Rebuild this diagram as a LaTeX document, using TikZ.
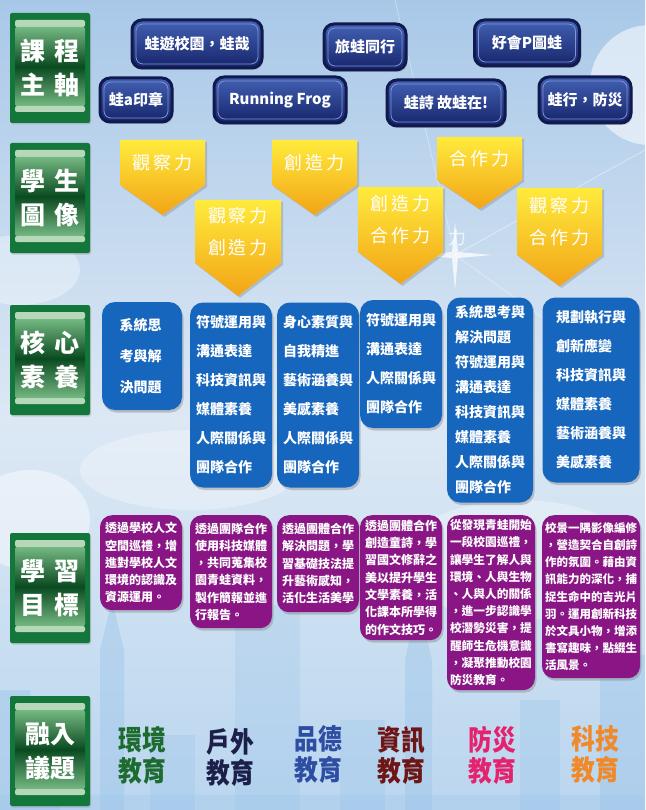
\documentclass[tikz,border=0pt]{standalone}
\usepackage{fontspec}
\setmainfont{Noto Sans CJK TC}
\usetikzlibrary{shadows,calc}
\definecolor{skyA}{HTML}{A9C8E8}
\definecolor{skyB}{HTML}{DCE8F4}
\definecolor{skyC}{HTML}{BAD6EF}
\definecolor{skyline}{HTML}{9EC6EA}
\definecolor{gframe}{HTML}{13763A}
\definecolor{gband}{HTML}{B7D8B8}
\definecolor{gmidL}{HTML}{74B882}
\definecolor{gdeep}{HTML}{0A4A20}
\definecolor{navyframe}{HTML}{111A4E}
\definecolor{navtop}{HTML}{4361B3}
\definecolor{navbot}{HTML}{16246A}
\definecolor{navlight}{HTML}{7F95D6}
\definecolor{yelA}{HTML}{FFEB3C}
\definecolor{yelB}{HTML}{F2A417}
\definecolor{coreblue}{HTML}{1766BE}
\definecolor{goalpurple}{HTML}{8A1685}
\definecolor{tgreen}{HTML}{1D6B2F}
\definecolor{tnavy}{HTML}{1C1F4A}
\definecolor{tblue}{HTML}{2D4EA3}
\definecolor{tmaroon}{HTML}{6E1616}
\definecolor{tpink}{HTML}{E5226E}
\definecolor{torange}{HTML}{F0892A}

\newcommand\ypent[7]{%
  \path[drop shadow={opacity=0.35,shadow xshift=2pt,shadow yshift=-2pt}, top color=yelA, bottom color=yelB]
    (#2,#4) -- (#3,#4) -- (#3,#5) -- ({(#2+#3)/2},#6) -- (#2,#5) -- cycle;
  \node[ytext] (#1) at ({(#2+#3)/2},{(#4+#5)/2}) {#7};}

\newcommand\topicnode[6]{%
  \node[topic, text=#4] (#1) at (#2,#3) {\scalebox{0.85}[1]{#5}\\\scalebox{0.85}[1]{#6}};}

\begin{document}
\begin{tikzpicture}[x=1pt,y=-1pt,
  glabel/.style={rounded corners=2pt, fill=gframe, minimum width=80pt, minimum height=110pt, inner sep=0pt,
    text=white, font=\bfseries\fontsize{25}{34}\selectfont, align=center,
    drop shadow={opacity=0.3,shadow xshift=1pt,shadow yshift=-1.5pt},
    path picture={
      \fill[gband] ($(path picture bounding box.north west)+(5pt,-7pt)$) rectangle ($(path picture bounding box.north east)+(-5pt,-14pt)$);
      \shade[top color=gmidL, bottom color=gmidL, middle color=gdeep] ($(path picture bounding box.north west)+(5pt,-14pt)$) rectangle ($(path picture bounding box.south east)+(-5pt,17pt)$);
      \fill[gband] ($(path picture bounding box.south west)+(5pt,17pt)$) rectangle ($(path picture bounding box.south east)+(-5pt,11pt)$);
    }},
  navbtn/.style={rounded corners=10pt, draw=navyframe, line width=3pt, top color=navtop, bottom color=navbot,
    text=white, font=\bfseries\fontsize{15}{18}\selectfont, inner sep=0pt,
    drop shadow={opacity=0.35,shadow xshift=1.5pt,shadow yshift=-2pt},
    path picture={\draw[navlight, line width=0.8pt, rounded corners=7pt] ($(path picture bounding box.north west)+(4pt,-4pt)$) rectangle ($(path picture bounding box.south east)+(-4pt,4pt)$);}},
  ytext/.style={text=white, font=\fontsize{18}{32}\selectfont\addfontfeatures{LetterSpace=15}, align=center, inner sep=0pt},
  core/.style={rounded corners=13pt, fill=coreblue, text=white, font=\bfseries\fontsize{14}{29}\selectfont, align=left, inner sep=0pt,
    drop shadow={opacity=0.4,shadow xshift=1.5pt,shadow yshift=-2.5pt}},
  goal/.style={rounded corners=12pt, fill=goalpurple, text=white, font=\bfseries\fontsize{12}{17.3}\selectfont, align=left,
    inner xsep=0pt, inner ysep=4pt, anchor=north, drop shadow={opacity=0.4,shadow xshift=1.5pt,shadow yshift=-2.5pt}},
  topic/.style={font=\bfseries\fontsize{28}{31}\selectfont, align=center, inner sep=0pt}
]
\useasboundingbox (0,0) rectangle (645,810);
% background
\shade[top color=skyA, bottom color=skyB] (0,0) rectangle (645,420);
\shade[top color=skyB, bottom color=skyC] (0,420) rectangle (645,810);
\fill[white, opacity=0.55] (650,85) ellipse (60pt and 60pt);
\fill[white, opacity=0.35] (20,270) ellipse (60pt and 35pt);
\fill[white, opacity=0.45] (30,520) ellipse (60pt and 50pt);
\fill[white, opacity=0.3] (190,470) ellipse (110pt and 40pt);
\fill[white, opacity=0.3] (520,560) ellipse (120pt and 60pt);
% rays and flare
\draw[white, opacity=0.5, line width=0.7pt] (455,255) -- (645,150);
\draw[white, opacity=0.4, line width=0.7pt] (455,255) -- (395,0);
\draw[white, opacity=0.4, line width=0.7pt] (455,255) -- (560,330);
\fill[white, opacity=0.75] (455,222) -- (458,252) -- (492,255) -- (458,258) -- (455,290) -- (452,258) -- (418,255) -- (452,252) -- cycle;
% skyline
\fill[skyline, opacity=0.45] (0,810) -- (0,690) -- (30,690) -- (30,720) -- (60,720) -- (60,810) -- cycle;
\fill[skyline, opacity=0.45] (100,810) -- (100,650) -- (112,600) -- (124,650) -- (124,810) -- cycle;
\fill[skyline, opacity=0.35] (150,810) -- (150,735) -- (195,735) -- (195,810) -- cycle;
\fill[skyline, opacity=0.3] (235,810) -- (235,605) -- (300,605) -- (300,810) -- cycle;
\fill[skyline, opacity=0.45] (405,810) -- (405,660) -- (418,600) -- (432,660) -- (432,810) -- cycle;
\fill[skyline, opacity=0.35] (340,810) -- (340,720) -- (385,720) -- (385,810) -- cycle;
\fill[skyline, opacity=0.35] (520,810) -- (520,700) -- (560,700) -- (560,810) -- cycle;
\fill[skyline, opacity=0.45] (600,810) -- (600,655) -- (645,655) -- (645,810) -- cycle;
\fill[skyline, opacity=0.3] (0,795) rectangle (645,810);

% left labels
\node[glabel] (L1) at (50,68) {課\hspace{9pt}程\\主\hspace{9pt}軸};
\node[glabel] (L2) at (50,198) {學\hspace{9pt}生\\圖\hspace{9pt}像};
\node[glabel] (L3) at (50,360) {核\hspace{9pt}心\\素\hspace{9pt}養};
\node[glabel] (L4) at (50,588) {學\hspace{9pt}習\\目\hspace{9pt}標};
\node[glabel] (L5) at (50,751) {融入\\議題};

% course buttons
\node[navbtn, minimum width=130pt, minimum height=48pt] (n1) at (197,44) {蛙遊校園，蛙哉};
\node[navbtn, minimum width=82pt, minimum height=46pt] (n2) at (365,47) {旅蛙同行};
\node[navbtn, minimum width=105pt, minimum height=46pt] (n3) at (527,43) {好會P圖蛙};
\node[navbtn, minimum width=72pt, minimum height=44pt] (n4) at (136,100) {蛙a印章};
\node[navbtn, minimum width=132pt, minimum height=46pt] (n5) at (280,100) {Running Frog};
\node[navbtn, minimum width=118pt, minimum height=46pt] (n6) at (446,103) {蛙詩\ 故蛙在!};
\node[navbtn, minimum width=92pt, minimum height=46pt] (n7) at (585,100) {蛙行，防災};

% student image pentagons
\ypent{p1}{120}{205}{140}{185}{215}{觀察力}
\ypent{p2}{272}{357}{140}{185}{215}{創造力}
\ypent{p3}{437}{522}{137}{180}{209}{合作力}
\node[text=white, opacity=0.7, font=\fontsize{18}{20}\selectfont] (stray) at (457,238) {力};
\ypent{p4}{195}{281}{200}{263}{296}{觀察力\\創造力}
\ypent{p5}{358}{443}{187}{252}{284}{創造力\\合作力}
\ypent{p6}{517}{602}{188}{255}{286}{觀察力\\合作力}

% core competencies
\node[core, minimum width=80pt, minimum height=108pt, text width=45pt, font=\bfseries\fontsize{14}{31}\selectfont] (c1) at (142,356) {系統思\\考與解\\決問題};
\node[core, minimum width=82pt, minimum height=185pt, text width=70pt] (c2) at (231,395) {符號運用與\\溝通表達\\科技資訊與\\媒體素養\\人際關係與\\團隊合作};
\node[core, minimum width=82pt, minimum height=185pt, text width=70pt] (c3) at (318,395) {身心素質與\\自我精進\\藝術涵養與\\美感素養\\人際關係與\\團隊合作};
\node[core, minimum width=82pt, minimum height=128pt, text width=70pt] (c4) at (401,364) {符號運用與\\溝通表達\\人際關係與\\團隊合作};
\node[core, minimum width=86pt, minimum height=205pt, text width=70pt, font=\bfseries\fontsize{14}{25}\selectfont] (c5) at (490,400) {系統思考與\\解決問題\\符號運用與\\溝通表達\\科技資訊與\\媒體素養\\人際關係與\\團隊合作};
\node[core, minimum width=97pt, minimum height=185pt, text width=70pt] (c6) at (591,390) {規劃執行與\\創新應變\\科技資訊與\\媒體素養\\藝術涵養與\\美感素養};

% learning goals
\node[goal, minimum width=82pt, minimum height=95pt, text width=72pt] (g1) at (141,515) {透過學校人文\\空間巡禮，增\\進對學校人文\\環境的認識及\\資源運用。};
\node[goal, minimum width=82pt, minimum height=113pt, text width=72pt] (g2) at (231,515) {透過團隊合作\\使用科技媒體\\，共同蒐集校\\園青蛙資料，\\製作簡報並進\\行報告。};
\node[goal, minimum width=82pt, minimum height=97pt, text width=72pt] (g3) at (318,515) {透過團體合作\\解決問題，學\\習基礎技法提\\升藝術感知，\\活化生活美學};
\node[goal, minimum width=82pt, minimum height=125pt, text width=72pt] (g4) at (401,515) {透過團體合作\\創造童詩，學\\習國文修辭之\\美以提升學生\\文學素養，活\\化課本所學得\\的作文技巧。};
\node[goal, minimum width=88pt, minimum height=175pt, text width=82pt, font=\bfseries\fontsize{11.7}{17.2}\selectfont] (g5) at (491,515) {從發現青蛙開始\\一段校園巡禮，\\讓學生了解人與\\環境、人與生物\\、人與人的關係\\，進一步認識學\\校潛勢災害，提\\醒師生危機意識\\，凝聚推動校園\\防災教育。};
\node[goal, minimum width=98pt, minimum height=163pt, text width=92pt, font=\bfseries\fontsize{11.5}{17.2}\selectfont] (g6) at (591,515) {校景一隅影像編修\\，營造契合自創詩\\作的氛圍。藉由資\\訊能力的深化，捕\\捉生命中的吉光片\\羽。運用創新科技\\於文具小物，增添\\書寫趣味，點綴生\\活風景。};

% topics
\topicnode{t1}{142}{755}{tgreen}{環境}{教育}
\topicnode{t2}{230}{758}{tnavy}{戶外}{教育}
\topicnode{t3}{318}{755}{tblue}{品德}{教育}
\topicnode{t4}{401}{755}{tmaroon}{資訊}{教育}
\topicnode{t5}{492}{755}{tpink}{防災}{教育}
\topicnode{t6}{595}{755}{torange}{科技}{教育}
\end{tikzpicture}
\end{document}
